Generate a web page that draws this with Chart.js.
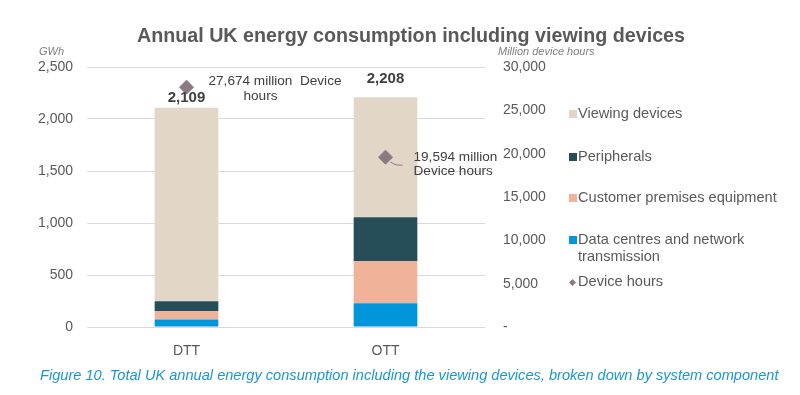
<!DOCTYPE html>
<html>
<head>
<meta charset="utf-8">
<script src="https://cdn.jsdelivr.net/npm/chart.js@4.4.1/dist/chart.umd.min.js"></script>
<style>
body{margin:0;background:#fff;font-family:"Liberation Sans",Arial,sans-serif;}
#wrap{position:relative;width:800px;height:395px;overflow:hidden;}
#chart{position:absolute;left:0;top:0;}
#title{position:absolute;top:24px;left:0;width:822px;text-align:center;font-weight:bold;font-size:19.7px;color:#595959;}
.axt{position:absolute;top:45px;font-style:italic;font-size:11px;color:#7f7f7f;}
#legend{position:absolute;left:569px;top:0;font-size:14.6px;color:#595959;}
.li{position:absolute;white-space:nowrap;line-height:17px;}
.sw{position:absolute;left:0;top:5px;width:8px;height:8px;}
.li span{position:absolute;left:9px;top:0;}
#caption{position:absolute;left:40px;top:367px;font-style:italic;font-size:14.6px;color:#1a96d4;white-space:nowrap;}
</style>
</head>
<body>
<div id="wrap">
<canvas id="chart" width="800" height="395"></canvas>
<div id="title">Annual UK energy consumption including viewing devices</div>
<div class="axt" style="left:39px;">GWh</div>
<div class="axt" style="left:498px;">Million device hours</div>
<div id="legend"></div>
<div id="caption">Figure 10. Total UK annual energy consumption including the viewing devices, broken down by system component</div>
</div>
<script>
const categories = ["DTT", "OTT"];
const dataCentres = [71, 228];
const premisesEquipment = [80, 407];
const peripherals = [96, 420];
const viewingDevices = [1862, 1153];
const deviceHours = [27674, 19594];
const gwhTicks = [0, 500, 1000, 1500, 2000, 2500];
const hourTicks = [0, 5000, 10000, 15000, 20000, 25000, 30000];

const grey = "#595959";
const fmt = v => v.toLocaleString("en-US");

const barSeries = [
  {label:"Data centres and network transmission", data:dataCentres, color:"#0096d9"},
  {label:"Customer premises equipment", data:premisesEquipment, color:"#f0b39a"},
  {label:"Peripherals", data:peripherals, color:"#264e59"},
  {label:"Viewing devices", data:viewingDevices, color:"#e2d7c7"}
];

// legend (html so the wrapped label sits like the original)
const legendRows = [
  {text:"Viewing devices", color:"#e2d7c7", top:105},
  {text:"Peripherals", color:"#264e59", top:148},
  {text:"Customer premises equipment", color:"#f0b39a", top:189},
  {text:"Data centres and network<br>transmission", color:"#0096d9", top:231},
  {text:"Device hours", color:"#8b7a84", top:273, diamond:true}
];
const legendEl = document.getElementById("legend");
legendRows.forEach(r => {
  const d = document.createElement("div");
  d.className = "li";
  d.style.top = r.top + "px";
  const sw = r.diamond
    ? '<div class="sw" style="width:5px;height:5px;top:7px;left:1px;transform:rotate(45deg);background:'+r.color+'"></div>'
    : '<div class="sw" style="background:'+r.color+'"></div>';
  d.innerHTML = sw + "<span>" + r.text + "</span>";
  legendEl.appendChild(d);
});

const labelPlugin = {
  id:"labels",
  afterDatasetsDraw(chart){
    const ctx = chart.ctx;
    const x = chart.scales.x, y = chart.scales.y;
    ctx.save();
    // totals above stacks
    ctx.font = "bold 15px 'Liberation Sans', Arial, sans-serif";
    ctx.fillStyle = "#404040";
    ctx.textAlign = "center";
    ctx.textBaseline = "middle";
    const lift = [10, 19];
    categories.forEach((c, i) => {
      const total = dataCentres[i] + premisesEquipment[i] + peripherals[i] + viewingDevices[i];
      ctx.fillText(fmt(total), x.getPixelForValue(i), y.getPixelForValue(total) - lift[i]);
    });
    // device hour notes
    const meta = chart.getDatasetMeta(4);
    ctx.font = "13.6px 'Liberation Sans', Arial, sans-serif";
    ctx.fillStyle = "#404040";
    const p0 = meta.data[0], p1 = meta.data[1];
    ctx.textAlign = "left";
    ctx.fillText(fmt(deviceHours[0]) + " million  Device", p0.x + 22, p0.y - 6);
    ctx.textAlign = "center";
    ctx.fillText("hours", p0.x + 74, p0.y + 9);
    ctx.textAlign = "left";
    ctx.fillText(fmt(deviceHours[1]) + " million", p1.x + 28, p1.y);
    ctx.fillText("Device hours", p1.x + 28, p1.y + 14);
    ctx.strokeStyle = "#8b7a84";
    ctx.lineWidth = 1;
    ctx.beginPath();
    ctx.moveTo(p1.x + 5, p1.y + 5);
    ctx.quadraticCurveTo(p1.x + 10, p1.y + 9, p1.x + 17, p1.y + 8);
    ctx.stroke();
    ctx.restore();
  }
};

new Chart(document.getElementById("chart"), {
  data:{
    labels:categories,
    datasets:[
      ...barSeries.map(s => ({
        type:"bar", label:s.label, data:s.data, backgroundColor:s.color,
        stack:"energy", yAxisID:"y", order:1,
        barPercentage:0.32, categoryPercentage:1
      })),
      {
        type:"line", label:"Device hours", data:deviceHours, yAxisID:"y1",
        showLine:false, pointStyle:"rectRot", pointRadius:7,
        backgroundColor:"#8b7a84", borderColor:"#8b7a84", order:0
      }
    ]
  },
  options:{
    responsive:false,
    animation:false,
    layout:{padding:{top:67, right:200, bottom:38, left:0}},
    plugins:{legend:{display:false}, tooltip:{enabled:false}},
    scales:{
      x:{
        stacked:true,
        grid:{display:false},
        border:{display:false},
        ticks:{color:grey, font:{size:14, family:"'Liberation Sans', Arial"}, padding:8},
        afterFit(s){ s.height = 30; }
      },
      y:{
        stacked:true, min:0, max:2500,
        afterBuildTicks(s){ s.ticks = gwhTicks.map(v => ({value:v})); },
        ticks:{color:grey, font:{size:14, family:"'Liberation Sans', Arial"}, padding:14, callback:v => fmt(v)},
        grid:{color:"#d9d9d9", drawTicks:false},
        border:{display:false},
        afterFit(s){ s.width = 87; }
      },
      y1:{
        position:"right", min:0, max:30000,
        afterBuildTicks(s){ s.ticks = hourTicks.map(v => ({value:v})); },
        ticks:{color:grey, font:{size:14, family:"'Liberation Sans', Arial"}, padding:18, callback:v => v === 0 ? "-" : fmt(v)},
        grid:{drawOnChartArea:false, drawTicks:false},
        border:{display:false},
        afterFit(s){ s.width = 115; }
      }
    }
  },
  plugins:[labelPlugin]
});
</script>
</body>
</html>
